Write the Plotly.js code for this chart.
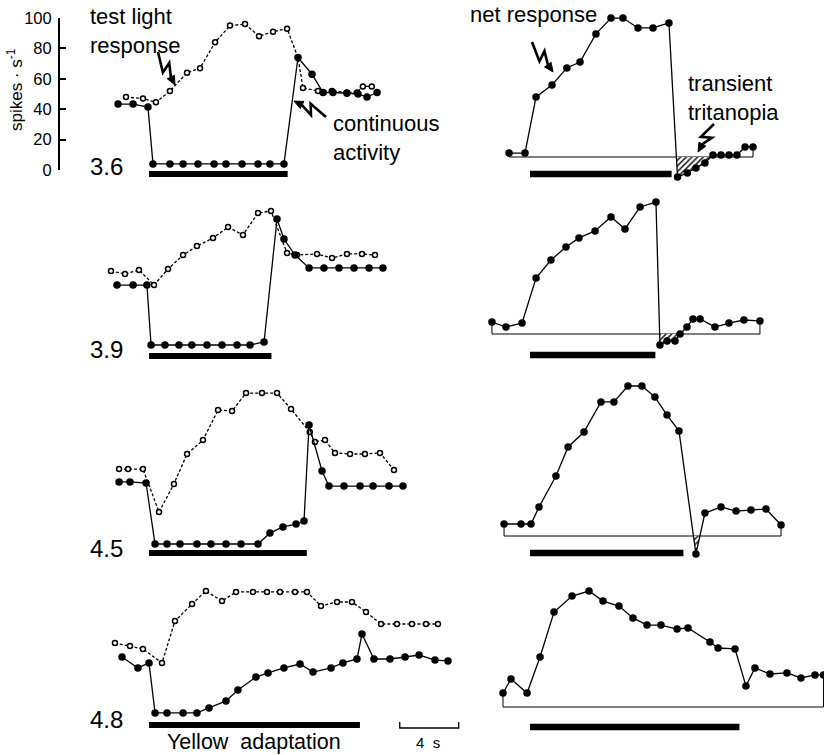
<!DOCTYPE html>
<html><head><meta charset="utf-8">
<script src="https://cdn.plot.ly/plotly-3.0.1.min.js"></script>
<style>html,body{margin:0;padding:0;background:#fff}</style>
</head><body><div id="chart" style="width:824px;height:755px"></div>
<script>
// ---------------- DATA (time in s from onset of yellow adaptation, rate in spikes/s) ----------------
const rowLabels = ['3.6', '3.9', '4.5', '4.8'];
const adaptLeft = [9.4, 8.3, 10.7, 14.3];   // duration of yellow adaptation (s), left column
const adaptRight = [9.6, 8.5, 10.4, 14.2];  // right column
const yTicks = [0, 20, 40, 60, 80, 100];
const scaleBarStart = 17.0, scaleBarLen = 4;  // "4 s" calibration

// row 3.6
const cont36_t = [-2.1, -1.08, -0.07, 0.27, 1.42, 2.31, 3.32, 4.41, 5.22, 6.31, 7.39, 8.2, 9.15, 10.1, 11.05, 11.8, 12.47, 13.42, 14.17, 14.78, 15.46];
const cont36_v = [43.4, 43.4, 41.4, 4, 4, 4, 4, 4, 4, 4, 4, 4, 4, 74, 63, 51, 51, 50.5, 50, 48, 51];
const test36_t = [-1.56, -0.41, 0.47, 1.42, 2.58, 3.46, 4.48, 5.49, 6.51, 7.46, 8.41, 9.36, 10.1, 10.44, 11.46, 12.4, 13.4, 14.1, 14.5, 15.1];
const test36_v = [48, 47, 44.5, 52, 64, 67, 84, 95, 96, 88, 91, 93, 74, 54, 52, 52, 51, 51, 55, 55];
const net36_t = [-1.42, -0.34, 0.41, 1.49, 2.5, 3.39, 4.47, 5.49, 6.3, 7.32, 8.34, 9.42, 10.0, 10.67, 11.25, 11.86, 12.4, 12.95, 13.49, 14.03, 14.58, 15.12];
const net36_v = [2.6, 2.6, 39.5, 47.4, 58.6, 62.5, 81, 91.4, 91.4, 84.9, 84.9, 88.2, -13.2, -10.5, -7.2, -3.9, 1.3, 1.3, 1.3, 1.3, 6.6, 6.6];

// row 3.9
const cont39_t = [-2.17, -1.08, -0.14, 0.14, 1.08, 2.03, 2.9, 3.93, 4.95, 5.97, 6.85, 7.8, 8.68, 9.15, 9.9, 10.85, 11.86, 12.88, 13.9, 14.92, 15.86];
const cont39_v = [44, 44, 44, 4.6, 4.6, 4.6, 4.6, 4.6, 4.6, 4.6, 4.6, 6.6, 87.5, 74.3, 63.8, 55.3, 55.3, 55.3, 55.3, 55.3, 55.3];
const test39_t = [-2.58, -1.63, -0.68, 0.34, 1.29, 2.31, 3.25, 4.34, 5.36, 6.37, 7.39, 8.27, 9.36, 10.03, 11.39, 12.41, 13.42, 14.44, 15.32];
const test39_v = [53.3, 51.3, 53.9, 44.1, 54.6, 63.8, 69.7, 75, 82.2, 77, 91.4, 92.8, 65.1, 63.8, 64.5, 61.8, 64.5, 64.5, 63.8];
const net39_t = [-2.58, -1.63, -0.54, 0.41, 1.42, 2.44, 3.32, 4.41, 5.49, 6.44, 7.46, 8.54, 8.81, 9.29, 9.83, 10.17, 10.64, 11.05, 11.53, 12.54, 13.49, 14.5, 15.59];
const net39_v = [7.9, 4.6, 7.2, 36.8, 48.7, 57.2, 63.2, 67.8, 77, 69.1, 83.6, 86.8, -7.2, -4.6, -4.6, 0, 4.6, 9.9, 9.9, 4.6, 7.2, 9.2, 8.6];

// row 4.5
const cont45_t = [-2.03, -1.29, -0.2, 0.41, 1.22, 2.1, 3.25, 4.2, 5.22, 6.24, 7.39, 8.2, 9.08, 9.97, 10.51, 10.85, 11.73, 12.2, 13.22, 14.31, 15.19, 16.27, 17.22];
const cont45_v = [44.1, 44.1, 43.4, 3.3, 3.3, 3.3, 3.3, 3.3, 3.3, 3.3, 3.3, 10.5, 14.5, 16.4, 18.4, 81.6, 51.3, 41.4, 41.4, 41.4, 41.4, 41.4, 41.4];
const test45_t = [-2.03, -1.42, -0.41, 0.68, 1.69, 2.58, 3.66, 4.68, 5.63, 6.58, 7.66, 8.68, 9.63, 10.9, 11.25, 11.93, 12.61, 13.63, 14.64, 15.66, 16.61];
const test45_v = [52.6, 52.6, 52.6, 24.3, 42.8, 62.5, 71.7, 91.4, 90.8, 102.6, 102.6, 102.6, 92.1, 76.9, 70.4, 71.7, 63.2, 62.5, 62.5, 63.2, 52];
const net45_t = [-1.76, -0.61, 0.07, 0.61, 1.76, 2.58, 3.66, 4.81, 5.69, 6.64, 7.59, 8.47, 9.29, 10.1, 11.25, 11.86, 12.95, 13.97, 14.98, 16.0, 17.02];
const net45_v = [7.9, 7.9, 7.9, 19.1, 39.5, 58.6, 68.4, 88.2, 88.2, 98.7, 98.7, 91.4, 79.6, 69.1, -11.8, 15.1, 19.1, 16.4, 17.1, 17.8, 7.2];

// row 4.8
const cont48_t = [-1.83, -0.75, 0, 0.41, 1.22, 2.31, 3.25, 4.07, 5.22, 6.03, 7.25, 8.07, 9.15, 10.24, 11.12, 12.34, 13.15, 14.1, 14.44, 15.25, 16.34, 17.36, 18.31, 19.39, 20.27];
const cont48_v = [42.1, 34.9, 38.2, 5.3, 5.3, 5.3, 5.3, 8.6, 13.2, 20.4, 28.9, 31.6, 34.9, 37.5, 32.2, 34.9, 38.2, 40.8, 57.2, 40.8, 40.8, 42.1, 43.4, 40.1, 39.5];
const test48_t = [-2.31, -1.29, -0.41, 0.88, 1.76, 2.92, 3.86, 4.95, 5.9, 7.05, 8.0, 8.88, 9.9, 10.71, 11.66, 12.75, 13.76, 14.71, 15.73, 16.81, 17.83, 18.78, 19.59];
const test48_v = [51.3, 49.3, 47.4, 38.2, 65.8, 77, 85.5, 78.9, 84.9, 84.9, 84.9, 84.9, 84.9, 84.9, 75.7, 78.3, 78.3, 71.7, 63.8, 63.8, 63.8, 63.8, 63.8];
const net48_t = [-1.83, -1.29, -0.2, 0.68, 1.63, 2.85, 4.0, 4.95, 6.03, 6.98, 7.93, 8.88, 9.97, 10.71, 12.2, 12.75, 13.9, 14.64, 15.25, 16.27, 17.42, 18.37, 19.32, 19.9];
const net48_v = [9.2, 18.4, 9.2, 32.9, 62.5, 73, 76.3, 69.7, 66.4, 58.6, 53.9, 53.9, 51.3, 52, 42.8, 38.8, 38.2, 13.8, 25.7, 21.7, 22.4, 19.1, 21.1, 21.1];

// ---------------- LAYOUT GEOMETRY ----------------
const W = 824, H = 755;
const PXS = 14.75, PYS = 1.52;              // px per second, px per spike/s
const leftX = [60, 460], leftT0 = 149;      // px where t=0
const rightX = [470, 824], rightT0 = 530;
const leftZero = [170, 352, 549, 721], rightZero = [157, 334, 536, 707];
const rowTop = [0, 185, 368, 562], rowBot = [185, 368, 562, 745];
const barLeftY = [174, 356, 553, 725], barRightY = [174, 355, 553, 727];
const labelY = [166, 350, 548, 719];
const FONT = 'Liberation Sans, Arial, Helvetica, sans-serif';

const X = px => px / W, Y = py => 1 - py / H;

const rows = [
  {cont: [cont36_t, cont36_v], test: [test36_t, test36_v], net: [net36_t, net36_v]},
  {cont: [cont39_t, cont39_v], test: [test39_t, test39_v], net: [net39_t, net39_v]},
  {cont: [cont45_t, cont45_v], test: [test45_t, test45_v], net: [net45_t, net45_v]},
  {cont: [cont48_t, cont48_v], test: [test48_t, test48_v], net: [net48_t, net48_v]},
];

function negPart(t, v) {
  const xs = [], ys = [];
  for (let i = 0; i < t.length; i++) {
    if (i > 0) {
      const a = v[i - 1], b = v[i];
      if (((a >= 0 && b < 0) || (a < 0 && b >= 0)) && a !== b) {
        const f = a / (a - b);
        xs.push(t[i - 1] + f * (t[i] - t[i - 1])); ys.push(0);
      }
    }
    if (v[i] < 0) { xs.push(t[i]); ys.push(v[i]); }
  }
  return {xs, ys};
}

const traces = [];
const layout = {
  width: W, height: H, margin: {l: 0, r: 0, t: 0, b: 0},
  paper_bgcolor: '#fff', plot_bgcolor: 'rgba(0,0,0,0)', showlegend: false,
  font: {family: FONT, color: '#000'}, shapes: [], annotations: []
};

function axName(i, k) { return i === 1 ? k + 'axis' : k + 'axis' + i; }
function hiddenAxis(extra) {
  return Object.assign({showgrid: false, zeroline: false, showline: false, ticks: '', showticklabels: false, fixedrange: true}, extra);
}

rows.forEach((r, ri) => {
  const li = 2 * ri + 1, rI = 2 * ri + 2;
  layout[axName(li, 'x')] = hiddenAxis({
    domain: [X(leftX[0]), X(leftX[1])],
    range: [(leftX[0] - leftT0) / PXS, (leftX[1] - leftT0) / PXS], anchor: 'y' + (li === 1 ? '' : li)
  });
  if (ri === 0) {
    layout[axName(li, 'y')] = {
      domain: [Y(170), Y(18)], range: [0, 100], anchor: 'x',
      showgrid: false, zeroline: false, showline: true, linewidth: 2, linecolor: '#000',
      ticks: 'inside', ticklen: 6, tickwidth: 2, tickcolor: '#000',
      tickvals: yTicks, ticktext: yTicks.map(String), tickfont: {size: 16.5, family: FONT},
      ticklabelstandoff: 3, fixedrange: true
    };
  } else {
    layout[axName(li, 'y')] = hiddenAxis({
      domain: [Y(rowBot[ri]), Y(rowTop[ri])],
      range: [(leftZero[ri] - rowBot[ri]) / PYS, (leftZero[ri] - rowTop[ri]) / PYS], anchor: 'x' + li
    });
  }
  layout[axName(rI, 'x')] = hiddenAxis({
    domain: [X(rightX[0]), X(rightX[1])],
    range: [(rightX[0] - rightT0) / PXS, (rightX[1] - rightT0) / PXS], anchor: 'y' + rI
  });
  layout[axName(rI, 'y')] = hiddenAxis({
    domain: [Y(rowBot[ri]), Y(rowTop[ri])],
    range: [(rightZero[ri] - rowBot[ri]) / PYS, (rightZero[ri] - rowTop[ri]) / PYS], anchor: 'x' + rI
  });

  const xl = li === 1 ? 'x' : 'x' + li, yl = li === 1 ? 'y' : 'y' + li;
  const xr = 'x' + rI, yr = 'y' + rI;

  // test light response (dashed, small open circles)
  traces.push({
    type: 'scatter', mode: 'lines+markers', x: r.test[0], y: r.test[1], xaxis: xl, yaxis: yl,
    line: {color: '#000', width: 1.3, dash: '3px,2px'},
    marker: {symbol: 'circle', size: 5, color: '#fff', line: {color: '#000', width: 1.5}},
    cliponaxis: false, hoverinfo: 'skip'
  });
  // continuous activity (solid, filled)
  traces.push({
    type: 'scatter', mode: 'lines+markers', x: r.cont[0], y: r.cont[1], xaxis: xl, yaxis: yl,
    line: {color: '#000', width: 1.3}, marker: {symbol: 'circle', size: 7.5, color: '#000'},
    cliponaxis: false, hoverinfo: 'skip'
  });

  // net response baseline (zero line with end ticks)
  const nt = r.net[0], nv = r.net[1], n = nt.length;
  traces.push({
    type: 'scatter', mode: 'lines', xaxis: xr, yaxis: yr,
    x: [nt[0], nt[0], nt[n - 1], nt[n - 1]], y: [nv[0], 0, 0, nv[n - 1]],
    line: {color: '#000', width: 1}, cliponaxis: false, hoverinfo: 'skip'
  });
  // hatched transient tritanopia
  const neg = negPart(nt, nv);
  if (neg.xs.length) {
    traces.push({
      type: 'scatter', mode: 'lines', x: neg.xs, y: neg.ys, xaxis: xr, yaxis: yr,
      fill: 'toself', fillcolor: 'rgba(0,0,0,0)', line: {width: 0},
      fillpattern: {shape: '/', fgcolor: '#000', bgcolor: '#fff', size: 4, solidity: 0.35},
      cliponaxis: false, hoverinfo: 'skip'
    });
  }
  traces.push({
    type: 'scatter', mode: 'lines+markers', x: nt, y: nv, xaxis: xr, yaxis: yr,
    line: {color: '#000', width: 1.3}, marker: {symbol: 'circle', size: 7.5, color: '#000'},
    cliponaxis: false, hoverinfo: 'skip'
  });

  // adaptation bars
  layout.shapes.push({type: 'rect', xref: xl, yref: 'paper', x0: 0, x1: adaptLeft[ri],
    y0: Y(barLeftY[ri] + 3), y1: Y(barLeftY[ri] - 3), fillcolor: '#000', line: {width: 0}});
  layout.shapes.push({type: 'rect', xref: xr, yref: 'paper', x0: 0, x1: adaptRight[ri],
    y0: Y(barRightY[ri] + 3.3), y1: Y(barRightY[ri] - 3.3), fillcolor: '#000', line: {width: 0}});

  layout.annotations.push({text: rowLabels[ri], xref: 'paper', yref: 'paper', x: X(106), y: Y(labelY[ri]),
    xanchor: 'center', yanchor: 'middle', showarrow: false, font: {size: 24, family: FONT}});
});

// calibration bar "4 s"
layout.shapes.push({type: 'path', xref: 'x7', yref: 'paper',
  path: `M ${scaleBarStart} ${Y(722)} L ${scaleBarStart} ${Y(728)} L ${scaleBarStart + scaleBarLen} ${Y(728)} L ${scaleBarStart + scaleBarLen} ${Y(722)}`,
  line: {color: '#000', width: 1.3}});

// lightning-bolt arrows
function bolt(sx, sy, ex, ey) {
  const dx = ex - sx, dy = ey - sy, L = Math.hypot(dx, dy), ux = dx / L, uy = dy / L, nx = -uy, ny = ux;
  const w = 5, head = 9, hw = 4;
  const p1 = [sx + ux * L * 0.55 + nx * w, sy + uy * L * 0.55 + ny * w];
  const p2 = [sx + ux * L * 0.40 - nx * w, sy + uy * L * 0.40 - ny * w];
  const hb = [ex - ux * head, ey - uy * head];
  const P = (p) => `${X(p[0])},${Y(p[1])}`;
  layout.shapes.push({type: 'path', xref: 'paper', yref: 'paper',
    path: `M ${P([sx, sy])} L ${P(p1)} L ${P(p2)} L ${P(hb)}`, line: {color: '#000', width: 2.6}});
  layout.shapes.push({type: 'path', xref: 'paper', yref: 'paper',
    path: `M ${P([ex, ey])} L ${P([hb[0] + nx * hw, hb[1] + ny * hw])} L ${P([hb[0] - nx * hw, hb[1] - ny * hw])} Z`,
    fillcolor: '#000', line: {color: '#000', width: 1}});
}
bolt(158, 52, 175, 85);
bolt(326, 117, 294, 101);
bolt(532, 42, 553, 72);
bolt(714, 124, 698, 152);

function txt(text, x, y, size, xa, ya, extra) {
  layout.annotations.push(Object.assign({text, xref: 'paper', yref: 'paper', x: X(x), y: Y(y),
    xanchor: xa, yanchor: ya, showarrow: false, align: 'left', font: {size, family: FONT, color: '#000'}}, extra || {}));
}
txt('test light<br>response', 88, 2, 22, 'left', 'top');
txt('continuous<br>activity', 331, 109, 22, 'left', 'top');
txt('net response', 468, 0, 22, 'left', 'top');
txt('transient<br>tritanopia', 686, 69, 22, 'left', 'top');
txt('Yellow  adaptation', 254, 742, 21.5, 'center', 'middle');
txt('4  s', 428, 742, 15, 'center', 'middle');
txt('spikes · s<sup>-1</sup>', 15, 90, 17, 'center', 'middle', {textangle: -90});

Plotly.newPlot('chart', traces, layout, {staticPlot: true, displayModeBar: false});
</script>
</body></html>
